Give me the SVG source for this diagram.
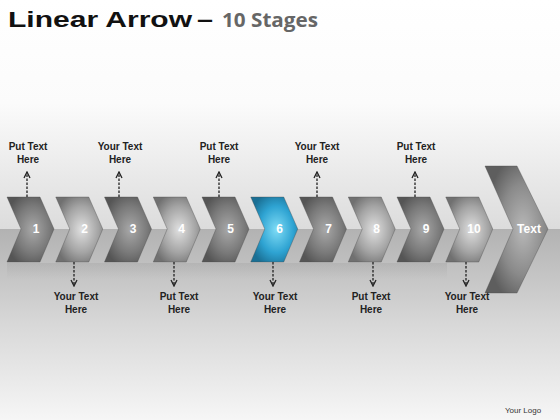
<svg xmlns="http://www.w3.org/2000/svg" width="560" height="420" viewBox="0 0 560 420">
<defs>
<linearGradient id="bgTop" x1="0" y1="0" x2="0" y2="1">
<stop offset="0" stop-color="#ffffff"/><stop offset="0.45" stop-color="#fbfbfb"/><stop offset="1" stop-color="#dcdcdc"/>
</linearGradient>
<linearGradient id="bgBot" x1="0" y1="0" x2="0" y2="1">
<stop offset="0" stop-color="#b2b2b2"/><stop offset="0.5" stop-color="#d8d8d8"/><stop offset="1" stop-color="#f6f6f6"/>
</linearGradient>
<radialGradient id="gDark" cx="0.55" cy="0.5" r="0.6">
<stop offset="0" stop-color="#a8a8a8"/><stop offset="0.6" stop-color="#7a7a7a"/><stop offset="1" stop-color="#555555"/>
</radialGradient>
<radialGradient id="gLight" cx="0.55" cy="0.5" r="0.6">
<stop offset="0" stop-color="#e0e0e0"/><stop offset="0.6" stop-color="#a4a4a4"/><stop offset="1" stop-color="#707070"/>
</radialGradient>
<radialGradient id="gBlue" cx="0.55" cy="0.5" r="0.6">
<stop offset="0" stop-color="#7fdcf6"/><stop offset="0.6" stop-color="#2ea3d2"/><stop offset="1" stop-color="#1a6f94"/>
</radialGradient>
<radialGradient id="gBig" cx="0.6" cy="0.5" r="0.6">
<stop offset="0" stop-color="#b8b8b8"/><stop offset="0.6" stop-color="#8a8a8a"/><stop offset="1" stop-color="#5e5e5e"/>
</radialGradient>
<linearGradient id="refl" x1="0" y1="0" x2="0" y2="1">
<stop offset="0" stop-color="#808080" stop-opacity="0.35"/><stop offset="1" stop-color="#808080" stop-opacity="0"/>
</linearGradient>
<polygon id="chev" points="0,0 33,0 47,32 33,65 0,65 14,32"/>
<marker id="ah" viewBox="0 0 8 8" refX="7" refY="4" markerWidth="8" markerHeight="8" markerUnits="userSpaceOnUse" orient="auto">
<path d="M1,1 L7,4 L1,7" fill="none" stroke="#222" stroke-width="1.3"/>
</marker>
</defs>
<style>
.num{font-family:"Liberation Sans",Arial,sans-serif;font-weight:bold;font-size:12px;fill:#ffffff;text-anchor:middle}
.lbl{font-family:"Liberation Sans",Arial,sans-serif;font-weight:bold;font-size:10px;fill:#222222;text-anchor:middle}
.con{stroke:#222;stroke-width:1.3;stroke-dasharray:2.5,1.5;fill:none;marker-end:url(#ah)}
.edge{stroke:#4a4a4a;stroke-width:0.6;stroke-opacity:0.6}
.dark{fill:url(#gDark)}
.light{fill:url(#gLight)}
.blue{fill:url(#gBlue)}
</style>
<rect x="0" y="0" width="560" height="229" fill="url(#bgTop)"/>
<rect x="0" y="229" width="560" height="191" fill="url(#bgBot)"/>
<g id="title">
<text x="8" y="27" font-family="Liberation Sans,Arial,sans-serif" font-weight="bold" font-size="22" fill="#111" textLength="184" lengthAdjust="spacingAndGlyphs">Linear Arrow</text>
<text x="197" y="27" font-family="Liberation Sans,Arial,sans-serif" font-weight="bold" font-size="22" fill="#111" textLength="16" lengthAdjust="spacingAndGlyphs">–</text>
<text x="222" y="27" font-family="Open Sans,Liberation Sans,sans-serif" font-weight="bold" font-size="20" fill="#666" textLength="96" lengthAdjust="spacingAndGlyphs">10 Stages</text>
</g>
<g id="reflections" opacity="0.5">
<rect x="7" y="263" width="440" height="16" fill="url(#refl)"/>
</g>
<g id="stage1"><use href="#chev" x="7" y="197" class="dark edge"/><text class="num" x="36" y="233">1</text></g>
<g id="stage2"><use href="#chev" x="55.75" y="197" class="light edge"/><text class="num" x="84.5" y="233">2</text></g>
<g id="stage3"><use href="#chev" x="104.5" y="197" class="dark edge"/><text class="num" x="133" y="233">3</text></g>
<g id="stage4"><use href="#chev" x="153.25" y="197" class="light edge"/><text class="num" x="181.5" y="233">4</text></g>
<g id="stage5"><use href="#chev" x="202" y="197" class="dark edge"/><text class="num" x="230.5" y="233">5</text></g>
<g id="stage6"><use href="#chev" x="250.75" y="197" class="blue edge"/><text class="num" x="279.5" y="233">6</text></g>
<g id="stage7"><use href="#chev" x="299.5" y="197" class="dark edge"/><text class="num" x="328.5" y="233">7</text></g>
<g id="stage8"><use href="#chev" x="348.25" y="197" class="light edge"/><text class="num" x="376.5" y="233">8</text></g>
<g id="stage9"><use href="#chev" x="397" y="197" class="dark edge"/><text class="num" x="426" y="233">9</text></g>
<g id="stage10"><use href="#chev" x="445.75" y="197" class="light edge"/><text class="num" x="474" y="233">10</text></g>
<g id="final"><polygon points="485,166 517,166 548,229 517,293 485,293 513,229" fill="url(#gBig)" class="edge"/><text class="num" x="529" y="233" font-size="11" font-weight="normal">Text</text></g>
<g id="connectors">
<line class="con" x1="27" y1="197" x2="27" y2="172"/>
<line class="con" x1="119" y1="197" x2="119" y2="172"/>
<line class="con" x1="219" y1="197" x2="219" y2="172"/>
<line class="con" x1="317" y1="197" x2="317" y2="172"/>
<line class="con" x1="415" y1="197" x2="415" y2="172"/>
<line class="con" x1="74" y1="262" x2="74" y2="286"/>
<line class="con" x1="174" y1="262" x2="174" y2="286"/>
<line class="con" x1="273" y1="262" x2="273" y2="286"/>
<line class="con" x1="373" y1="262" x2="373" y2="286"/>
<line class="con" x1="466" y1="262" x2="466" y2="286"/>
</g>
<g id="label-t1"><text class="lbl" x="28" y="150">Put Text</text><text class="lbl" x="28" y="163">Here</text></g>
<g id="label-t3"><text class="lbl" x="120" y="150">Your Text</text><text class="lbl" x="120" y="163">Here</text></g>
<g id="label-t5"><text class="lbl" x="219" y="150">Put Text</text><text class="lbl" x="219" y="163">Here</text></g>
<g id="label-t7"><text class="lbl" x="317" y="150">Your Text</text><text class="lbl" x="317" y="163">Here</text></g>
<g id="label-t9"><text class="lbl" x="416" y="150">Put Text</text><text class="lbl" x="416" y="163">Here</text></g>
<g id="label-b2"><text class="lbl" x="76" y="300">Your Text</text><text class="lbl" x="76" y="313">Here</text></g>
<g id="label-b4"><text class="lbl" x="179" y="300">Put Text</text><text class="lbl" x="179" y="313">Here</text></g>
<g id="label-b6"><text class="lbl" x="275" y="300">Your Text</text><text class="lbl" x="275" y="313">Here</text></g>
<g id="label-b8"><text class="lbl" x="371" y="300">Put Text</text><text class="lbl" x="371" y="313">Here</text></g>
<g id="label-b10"><text class="lbl" x="467" y="300">Your Text</text><text class="lbl" x="467" y="313">Here</text></g>
<text x="523" y="413" font-family="Liberation Sans,Arial,sans-serif" font-size="8" fill="#333" text-anchor="middle">Your Logo</text>
</svg>
